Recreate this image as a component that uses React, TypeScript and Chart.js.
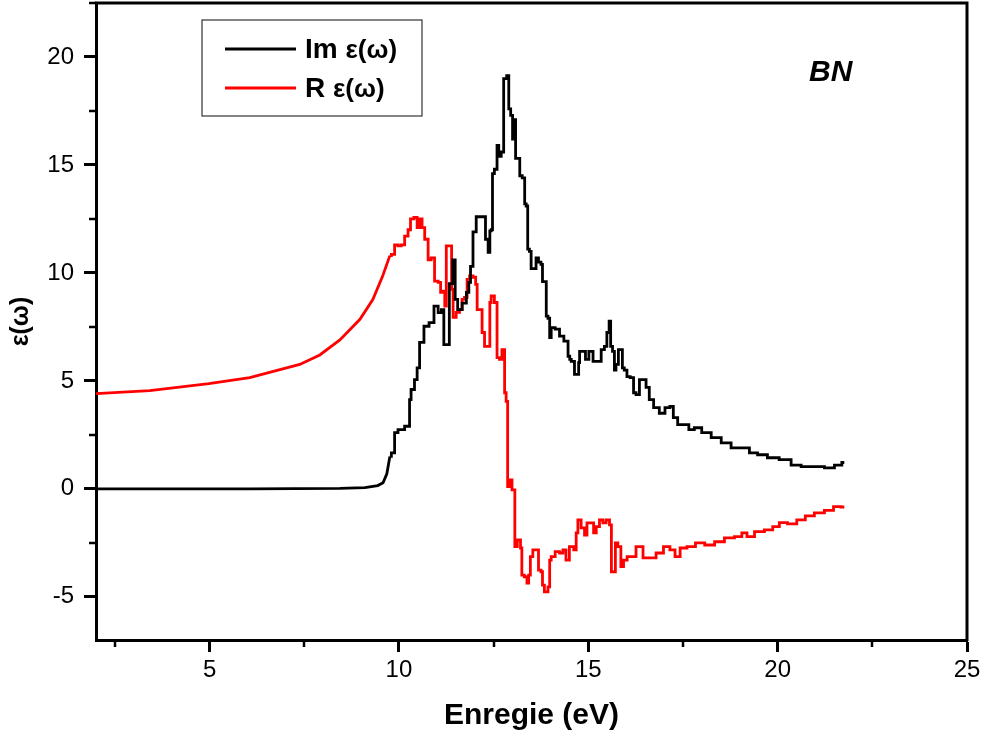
import React, { useEffect, useRef } from 'react';
import { Chart, registerables } from 'chart.js';

Chart.register(...registerables);

// ---- Data (energy in eV, dielectric function values) ----
const imX = [
  2.0, 6.06, 8.44, 9.1, 9.44, 9.58, 9.68, 9.76, 9.84, 9.93, 10.02, 10.28, 10.28, 10.36, 10.46, 10.5, 10.59,
  10.73, 10.86, 10.99, 11.08, 11.16, 11.21, 11.29, 11.37, 11.47, 11.5, 11.6, 11.74, 11.82, 11.87, 11.91,
  12.0, 12.08, 12.26, 12.31, 12.4, 12.4, 12.47, 12.47, 12.57, 12.61, 12.66, 12.74, 12.79, 12.9, 12.9, 13.0,
  13.0, 13.08, 13.08, 13.19, 13.19, 13.32, 13.32, 13.4, 13.4, 13.49, 13.49, 13.58, 13.66, 13.71, 13.79,
  13.79, 13.89, 13.89, 13.98, 13.98, 14.06, 14.19, 14.29, 14.42, 14.51, 14.51, 14.59, 14.68, 14.72, 14.77,
  14.77, 14.9, 14.95, 15.08, 15.17, 15.3, 15.38, 15.47, 15.51, 15.59, 15.59, 15.69, 15.69, 15.77, 15.82,
  15.9, 15.9, 16.0, 16.04, 16.17, 16.22, 16.3, 16.4, 16.49, 16.56, 16.66, 16.79, 16.96, 17.09, 17.22,
  17.27, 17.45, 17.59, 17.72, 17.88, 18.11, 18.38, 18.64, 18.9, 19.17, 19.34, 19.6, 19.86, 20.22, 20.49,
  20.75, 21.1, 21.37, 21.63, 21.76,
];
const imY = [
  0.0, 0.0, 0.02, 0.06, 0.15, 0.28, 0.7, 1.5, 1.67, 2.6, 2.74, 2.9, 4.13, 4.6, 5.06, 5.6, 6.78,
  7.53, 7.7, 8.46, 8.16, 8.3, 6.68, 6.68, 9.5, 10.6, 8.77, 8.3, 8.6, 9.1, 9.56, 10.3,
  11.9, 12.6, 12.6, 11.56, 10.95, 11.95, 12.0, 14.6, 14.8, 15.9, 15.4, 15.6, 19.0, 19.14, 17.6, 17.3,
  16.2, 17.1, 15.3, 15.3, 14.5, 14.4, 13.2, 13.1, 11.1, 11.0, 10.2, 10.2, 10.7, 10.5, 10.4,
  9.6, 9.6, 8.0, 7.9, 7.0, 7.47, 7.4, 7.07, 6.84, 6.14, 6.0, 5.9, 5.3, 5.3, 5.85,
  6.37, 6.37, 6.0, 6.37, 5.9, 5.9, 6.45, 6.6, 7.24, 7.77, 6.6, 6.37, 5.5, 5.76, 6.45,
  6.45, 5.6, 5.5, 5.2, 5.15, 4.45, 4.36, 5.06, 5.06, 4.7, 4.13, 3.76, 3.5, 3.76, 3.82,
  3.3, 2.97, 2.97, 2.74, 2.83, 2.6, 2.37, 2.13, 1.9, 1.9, 1.67, 1.58, 1.44, 1.35, 1.1,
  1.03, 1.03, 0.97, 1.1, 1.22,
];

const reX = [
  2.0, 3.42, 4.98, 6.06, 7.38, 7.91, 8.44, 8.97, 9.31, 9.57, 9.76, 9.84, 9.93, 10.02, 10.1, 10.2, 10.28,
  10.33, 10.46, 10.5, 10.59, 10.63, 10.73, 10.81, 10.89, 10.99, 11.08, 11.12, 11.21, 11.21, 11.29, 11.39,
  11.39, 11.47, 11.55, 11.65, 11.68, 11.78, 11.82, 11.91, 12.0, 12.05, 12.08, 12.18, 12.21, 12.31, 12.4,
  12.4, 12.47, 12.57, 12.61, 12.7, 12.74, 12.79, 12.79, 12.87, 12.87, 12.97, 13.0, 13.06, 13.06, 13.19,
  13.23, 13.26, 13.36, 13.4, 13.45, 13.49, 13.58, 13.66, 13.71, 13.79, 13.79, 13.89, 13.98, 13.98, 14.06,
  14.19, 14.29, 14.37, 14.45, 14.55, 14.68, 14.68, 14.77, 14.85, 14.95, 14.98, 15.11, 15.17, 15.25, 15.34,
  15.43, 15.51, 15.61, 15.61, 15.69, 15.74, 15.82, 15.9, 15.96, 16.09, 16.22, 16.3, 16.4, 16.49, 16.7,
  16.88, 17.09, 17.22, 17.36, 17.49, 17.72, 17.94, 18.21, 18.46, 18.73, 18.99, 19.12, 19.26, 19.52, 19.78,
  19.96, 20.13, 20.39, 20.62, 20.84, 21.1, 21.37, 21.58, 21.76,
];
const reY = [
  4.41, 4.55, 4.87, 5.15, 5.76, 6.2, 6.9, 7.85, 8.77, 9.86, 10.8, 10.86, 11.3, 11.25, 11.3, 11.7, 12.0,
  12.5, 12.57, 12.1, 12.5, 12.1, 11.56, 10.6, 10.7, 9.62, 9.56, 9.1, 9.16, 8.46, 11.25, 11.25,
  9.24, 7.94, 8.17, 8.3, 8.77, 8.87, 9.7, 9.86, 9.8, 9.47, 8.3, 8.3, 7.24, 6.6, 6.6,
  8.63, 8.93, 8.63, 6.08, 6.0, 6.45, 6.45, 4.45, 4.05, 0.1, 0.42, -0.05, -0.05, -2.68, -2.37,
  -2.74, -4.0, -4.07, -4.37, -4.0, -3.14, -2.83, -2.83, -3.76, -3.84, -4.46, -4.77, -4.54, -3.3, -3.14,
  -2.91, -2.97, -2.83, -3.3, -2.68, -2.83, -2.04, -1.44, -1.81, -2.14, -1.58, -1.58, -2.04, -1.75, -1.44,
  -1.58, -1.44, -1.67, -3.84, -3.84, -2.5, -2.68, -3.6, -3.3, -3.14, -3.14, -2.68, -2.68, -3.2, -3.2,
  -2.97, -2.68, -2.83, -3.14, -2.74, -2.68, -2.5, -2.6, -2.45, -2.27, -2.21, -2.04, -2.21, -1.98, -1.9,
  -1.75, -1.56, -1.62, -1.44, -1.25, -1.11, -1.0, -0.82, -0.84,
];

const seriesLabels = ['Im ε(ω)', 'R ε(ω)'];
const xMajorTicks = [5, 10, 15, 20, 25];
const xMinorTicks = [2.5, 7.5, 12.5, 17.5, 22.5];
const yMajorTicks = [-5, 0, 5, 10, 15, 20];
const yMinorTicks = [-2.5, 2.5, 7.5, 12.5, 17.5, 22.5];
const xTitle = 'Enregie (eV)';
const yTitle = 'ε(ω)';
const annotationText = 'BN';
// energy (eV) above which the spectra are drawn as steps
const stepFromEnergy = 9.76;

const FONT = "'Liberation Sans', Arial, Helvetica, sans-serif";
const COLORS = ['#000000', '#ff0000'];

const framePlugin = {
  id: 'framePlugin',
  afterDraw(chart: any) {
    const { ctx, chartArea, scales } = chart;
    const { left, right, top, bottom } = chartArea;
    const xs = scales.x;
    const ys = scales.y;
    ctx.save();
    ctx.strokeStyle = '#000';
    ctx.lineWidth = 3;
    ctx.beginPath();
    ctx.moveTo(left - 1, top);
    ctx.lineTo(right, top);
    ctx.lineTo(right, bottom + 1);
    ctx.stroke();
    // minor ticks
    ctx.lineWidth = 2.5;
    ctx.beginPath();
    xMinorTicks.forEach((v) => {
      const px = Math.round(xs.getPixelForValue(v));
      ctx.moveTo(px, bottom);
      ctx.lineTo(px, bottom + 7);
    });
    yMinorTicks.forEach((v) => {
      const py = Math.round(ys.getPixelForValue(v));
      ctx.moveTo(left, py);
      ctx.lineTo(left - 7, py);
    });
    ctx.stroke();

    // legend box
    const bx = 202, by = 20, bw = 220, bh = 96;
    ctx.lineWidth = 1.2;
    ctx.strokeStyle = '#333';
    ctx.fillStyle = '#fff';
    ctx.fillRect(bx, by, bw, bh);
    ctx.strokeRect(bx, by, bw, bh);
    const rows = [49, 88];
    rows.forEach((ry, i) => {
      ctx.strokeStyle = COLORS[i];
      ctx.lineWidth = 3;
      ctx.beginPath();
      ctx.moveTo(225, ry);
      ctx.lineTo(296, ry);
      ctx.stroke();
      ctx.fillStyle = '#000';
      ctx.textBaseline = 'middle';
      ctx.textAlign = 'left';
      const parts = seriesLabels[i].split(' ');
      ctx.font = `bold 28px ${FONT}`;
      ctx.fillText(parts[0], 305, ry + 1);
      const w = ctx.measureText(parts[0] + ' ').width;
      ctx.font = `bold 26px ${FONT}`;
      ctx.fillText(parts.slice(1).join(' '), 305 + w, ry + 2);
    });

    // annotation
    ctx.fillStyle = '#000';
    ctx.font = `italic bold 30px ${FONT}`;
    ctx.textAlign = 'left';
    ctx.textBaseline = 'middle';
    ctx.fillText(annotationText, 809, 73);
    ctx.restore();
  },
};

function toPoints(xs: number[], ys: number[]) {
  return xs.map((x, i) => ({ x, y: ys[i] }));
}

function splitSeries(xs: number[], ys: number[]) {
  const pts = toPoints(xs, ys);
  const k = xs.findIndex((x) => x >= stepFromEnergy);
  return { smooth: pts.slice(0, k + 1), stepped: pts.slice(k) };
}

export default function App() {
  const ref = useRef<HTMLCanvasElement | null>(null);
  useEffect(() => {
    if (!ref.current) return;
    const im = splitSeries(imX, imY);
    const re = splitSeries(reX, reY);
    const base = { pointRadius: 0, borderWidth: 2.8, tension: 0, fill: false };
    const chart = new Chart(ref.current, {
      type: 'line',
      data: {
        datasets: [
          { ...base, label: seriesLabels[0], data: im.smooth, borderColor: COLORS[0], backgroundColor: COLORS[0] },
          { ...base, label: seriesLabels[0], data: im.stepped, stepped: 'middle', borderColor: COLORS[0], backgroundColor: COLORS[0] },
          { ...base, label: seriesLabels[1], data: re.smooth, borderColor: COLORS[1], backgroundColor: COLORS[1] },
          { ...base, label: seriesLabels[1], data: re.stepped, stepped: 'middle', borderColor: COLORS[1], backgroundColor: COLORS[1] },
        ] as any,
      },
      options: {
        responsive: false,
        animation: false,
        layout: { padding: { top: 3, right: 18, left: 0, bottom: 0 } },
        plugins: { legend: { display: false }, tooltip: { enabled: false } },
        scales: {
          x: {
            type: 'linear',
            min: 2,
            max: 25,
            afterBuildTicks: (s: any) => {
              s.ticks = xMajorTicks.map((v) => ({ value: v }));
            },
            afterFit: (s: any) => {
              s.height = 106;
              s.paddingLeft = 0;
              s.paddingRight = 0;
            },
            ticks: {
              color: '#000',
              font: { family: FONT, size: 24 },
              padding: 4,
              maxRotation: 0,
              autoSkip: false,
            },
            grid: {
              drawOnChartArea: false,
              drawTicks: true,
              tickLength: 12,
              tickWidth: 3,
              tickColor: '#000',
            },
            border: { color: '#000', width: 3 },
            title: {
              display: true,
              text: xTitle,
              color: '#000',
              font: { family: FONT, size: 30, weight: 'bold' },
              padding: { top: 0, bottom: 12 },
            },
          },
          y: {
            type: 'linear',
            min: -7,
            max: 22.5,
            afterBuildTicks: (s: any) => {
              s.ticks = yMajorTicks.map((v) => ({ value: v }));
            },
            afterFit: (s: any) => {
              s.width = 96;
              s.paddingTop = 0;
              s.paddingBottom = 0;
            },
            ticks: {
              color: '#000',
              font: { family: FONT, size: 24 },
              padding: 10,
              autoSkip: false,
            },
            grid: {
              drawOnChartArea: false,
              drawTicks: true,
              tickLength: 12,
              tickWidth: 3,
              tickColor: '#000',
            },
            border: { color: '#000', width: 3 },
            title: {
              display: true,
              text: yTitle,
              color: '#000',
              font: { family: FONT, size: 25, weight: 'bold' },
              padding: { top: 6, bottom: 0 },
            },
          },
        },
      },
      plugins: [framePlugin],
    });
    return () => chart.destroy();
  }, []);
  return (
    <div style={{ position: 'fixed', left: 0, top: 0, width: 985, height: 746, background: '#fff' }}>
      <canvas ref={ref} width={985} height={746} style={{ width: 985, height: 746, display: 'block' }} />
    </div>
  );
}
